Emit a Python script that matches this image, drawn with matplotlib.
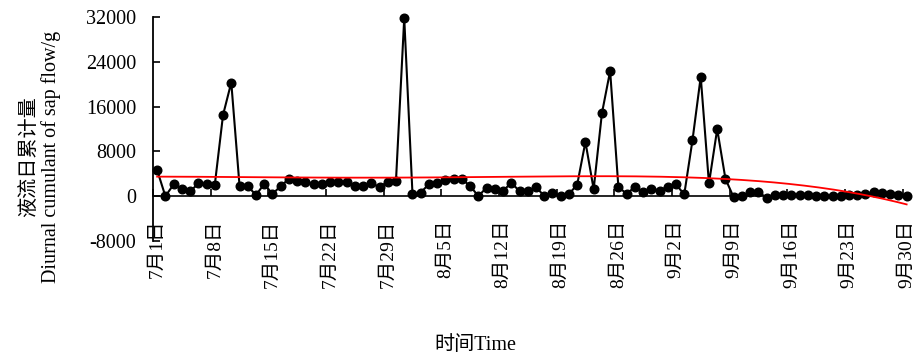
import numpy as np
import matplotlib
matplotlib.use('Agg')
from matplotlib import pyplot as plt

plt.rcParams['font.family'] = ['Liberation Serif', 'Noto Sans CJK SC']

# daily sap flow, 7月1日 .. 9月30日 (92 days)
flow = [4650, 0, 2100, 1300, 850, 2270, 2090, 2050, 14500, 20300,
        1900, 1800, 200, 2200, 400, 1800, 3100, 2700, 2560, 2200,
        2150, 2500, 2500, 2500, 1800, 1800, 2270, 1670, 2560, 2800,
        31800, 480, 660, 2150, 2380, 2860, 3160, 3040, 1840, 0,
        1550, 1370, 950, 2400, 890, 890, 1670, 0, 600, 60,
        400, 2050, 9700, 1250, 14780, 22350, 1670, 420, 1650, 700,
        1370, 1000, 1730, 2090, 330, 10010, 21330, 2270, 11980, 3100,
        -200, 60, 770, 770, -300, 300, 300, 300, 300, 180,
        60, 60, 60, 100, 180, 300, 480, 700, 660, 480,
        300, 60]
tick_labels = ['7月1日', '7月8日', '7月15日', '7月22日', '7月29日', '8月5日',
               '8月12日', '8月19日', '8月26日', '9月2日', '9月9日',
               '9月16日', '9月23日', '9月30日']
yticks = [-8000, 0, 8000, 16000, 24000, 32000]

days = np.arange(len(flow))

fig = plt.figure(figsize=(9.18, 3.54), dpi=100)
ax = fig.add_axes([0.1667, 0.3192, 0.8254, 0.6328])

ax.plot(days, flow, color='black', lw=1.5, marker='o', ms=6.2, zorder=3, clip_on=False)

# polynomial trend line fitted to the data
coef = np.polyfit(days, flow, 4)
xs = np.linspace(0, days[-1], 300)
ax.plot(xs, np.polyval(coef, xs), color='red', lw=1.3, zorder=4)

ax.set_xlim(-0.5, len(flow) - 0.5)
ax.set_ylim(-8000, 32000)
ax.tick_params(axis='y', direction='in', length=5, width=1.2, pad=12, labelsize=14.5)
ax.tick_params(axis='x', which='major', length=0, pad=17, labelsize=14, labelrotation=90)
ax.tick_params(axis='x', which='minor', direction='in', length=5, width=1.2)
ax.set_yticks(yticks)
ax.set_yticklabels([str(v) for v in yticks])
ax.set_xticks(np.arange(-0.5, len(flow), 7), minor=True)
ax.set_xticks(days[::7])
ax.set_xticklabels(tick_labels, va='top', ha='center')

ax.spines['top'].set_visible(False)
ax.spines['right'].set_visible(False)
ax.spines['bottom'].set_position(('data', 0))
ax.spines['bottom'].set_linewidth(1.2)
ax.spines['left'].set_linewidth(1.3)

fig.text(0.044, 1 - 157 / 354, '液流日累计量\nDiurnal cumulant of sap flow/g',
         rotation=90, ha='center', va='center', multialignment='center',
         fontsize=14.5, linespacing=1.1)
fig.text(475 / 918, 1 - 345 / 354, '时间Time', ha='center', va='center', fontsize=14.5)

fig.savefig('out.png', dpi=100)
